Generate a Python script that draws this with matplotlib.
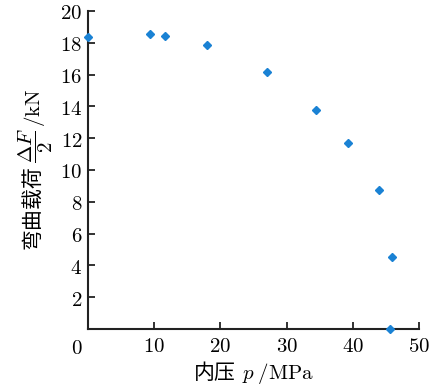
import numpy as np
import matplotlib
matplotlib.use("Agg")
import matplotlib.pyplot as plt

# internal pressure (MPa) vs bending load dF/2 (kN)
p_MPa = [0.0, 9.4, 11.7, 18.0, 27.0, 34.5, 39.2, 43.9, 45.9, 45.6]
load_kN = [18.36, 18.55, 18.43, 17.86, 16.16, 13.77, 11.70, 8.74, 4.53, 0.0]
xticks = [10, 20, 30, 40, 50]
yticks = [2, 4, 6, 8, 10, 12, 14, 16, 18, 20]

plt.rcParams['mathtext.fontset'] = 'cm'
plt.rcParams['font.family'] = ['Noto Sans CJK SC', 'DejaVu Serif']
fs = 15

fig = plt.figure(figsize=(4.42, 3.89), dpi=100)
ax = fig.add_axes([0.199, 0.154, 0.749, 0.818])

ax.plot(p_MPa, load_kN, linestyle='none', marker='D', markersize=4,
        color='#1a82d4', clip_on=False, zorder=5)

ax.set_xlim(0, 50)
ax.set_ylim(0, 20)
ax.set_xticks(xticks)
ax.set_yticks(yticks)
ax.set_xticklabels([f'${t}$' for t in xticks], fontsize=fs)
ax.set_yticklabels([f'${t}$' for t in yticks], fontsize=fs)
ax.tick_params(direction='in', length=5, width=1.3, color='#222222', pad=4)
ax.text(-0.035, -0.025, '$0$', transform=ax.transAxes, fontsize=fs,
        ha='center', va='top')

for s in ['top', 'right']:
    ax.spines[s].set_visible(False)
for s in ['left', 'bottom']:
    ax.spines[s].set_linewidth(1.5)
    ax.spines[s].set_color('#222222')

ax.set_xlabel(r'内压 $\,p\;/\mathrm{MPa}$', fontsize=fs, labelpad=2)
ax.set_ylabel(r'弯曲载荷 $\dfrac{\Delta F}{2}\,/\mathrm{kN}$', fontsize=fs, labelpad=4)

fig.savefig('out.png', dpi=100)
